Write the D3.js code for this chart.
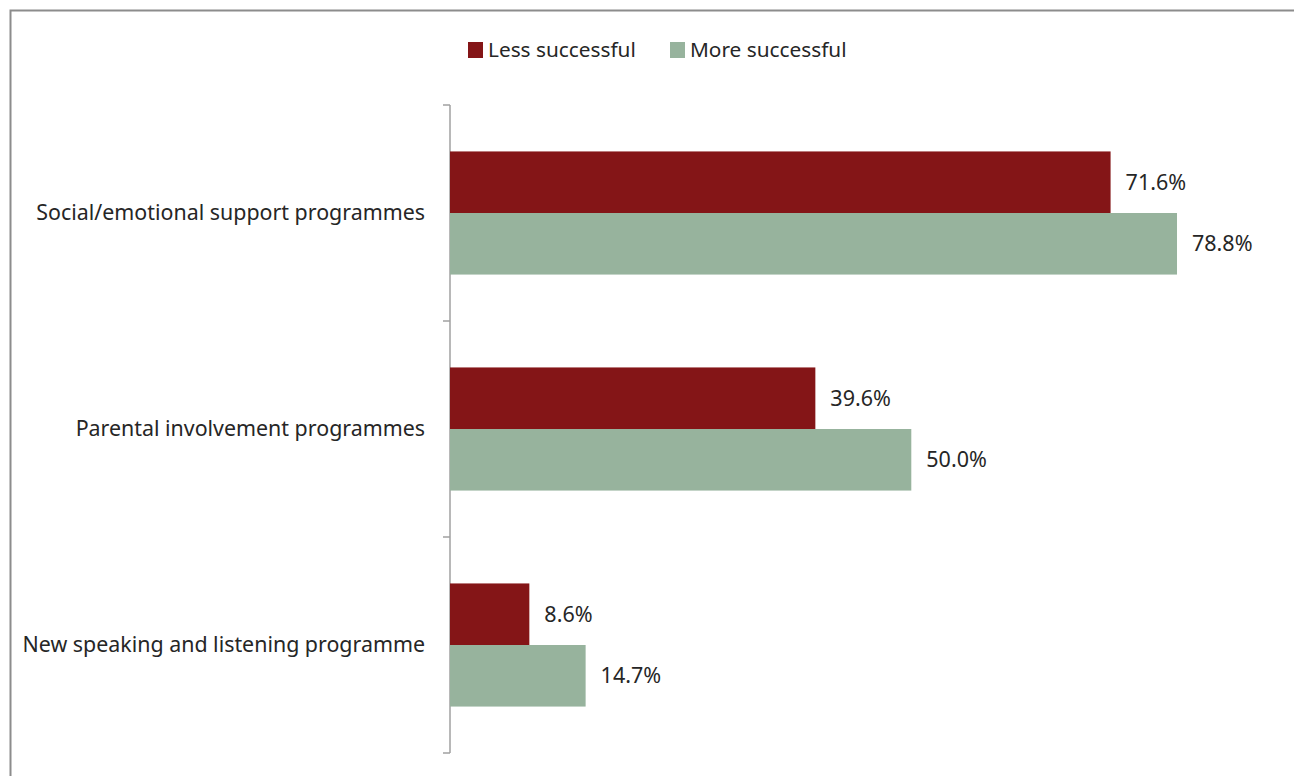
<!DOCTYPE html>
<html>
<head>
<meta charset="utf-8">
<script src="https://cdn.jsdelivr.net/npm/d3@7"></script>
<style>
  body { margin: 0; background: #fff; }
  text { font-family: "Noto Sans", sans-serif; fill: #262626; }
</style>
</head>
<body>
<div id="chart"></div>
<script>
// data
var categories = ["Social/emotional support programmes", "Parental involvement programmes", "New speaking and listening programme"];
var seriesNames = ["Less successful", "More successful"];
var lessSuccessful = [71.6, 39.6, 8.6];
var moreSuccessful = [78.8, 50.0, 14.7];
var colours = ["#841517", "#97b39d"];

var W = 1294, H = 776;
var margin = {top: 105, left: 450, bottom: 23};

var svg = d3.select("#chart").append("svg")
    .attr("width", W)
    .attr("height", H);

// outer frame
svg.append("rect")
    .attr("x", 10.5).attr("y", 10.5)
    .attr("width", W + 20).attr("height", H + 20)
    .attr("fill", "none")
    .attr("stroke", "#8c8c8c")
    .attr("stroke-width", 2);

var rows = categories.map(function(c, i) {
    return {cat: c, values: [lessSuccessful[i], moreSuccessful[i]]};
});

// scales
var x = d3.scaleLinear().domain([0, 100]).range([margin.left, margin.left + 922.6]);
var y = d3.scaleBand().domain(categories).range([margin.top, H - margin.bottom]).paddingInner(0.43).paddingOuter(0.215);
var ySub = d3.scaleBand().domain(seriesNames).range([0, y.bandwidth()]);

// axis with tick marks between categories
var yAxis = d3.scaleLinear().domain([0, categories.length]).range([margin.top, H - margin.bottom]);
var axisG = svg.append("g");
axisG.append("line")
    .attr("x1", margin.left).attr("x2", margin.left)
    .attr("y1", yAxis(0)).attr("y2", yAxis(categories.length))
    .attr("stroke", "#a0a0a0").attr("stroke-width", 1.5);
axisG.selectAll("line.tick")
    .data(d3.range(categories.length + 1))
    .enter().append("line")
    .attr("class", "tick")
    .attr("x1", margin.left - 7).attr("x2", margin.left)
    .attr("y1", function(d) { return yAxis(d); })
    .attr("y2", function(d) { return yAxis(d); })
    .attr("stroke", "#a0a0a0").attr("stroke-width", 1.5);

// category labels
svg.selectAll("text.cat")
    .data(categories)
    .enter().append("text")
    .attr("class", "cat")
    .attr("x", margin.left - 25)
    .attr("y", function(d) { return y(d) + y.bandwidth() / 2; })
    .attr("dy", "0.35em")
    .attr("text-anchor", "end")
    .style("font-size", "21.4px")
    .text(function(d) { return d; });

// bars
var groups = svg.selectAll("g.row")
    .data(rows)
    .enter().append("g")
    .attr("class", "row")
    .attr("transform", function(d) { return "translate(0," + y(d.cat) + ")"; });

groups.selectAll("rect")
    .data(function(d) { return d.values; })
    .enter().append("rect")
    .attr("x", x(0))
    .attr("y", function(d, i) { return ySub(seriesNames[i]); })
    .attr("width", function(d) { return x(d) - x(0); })
    .attr("height", ySub.bandwidth())
    .attr("fill", function(d, i) { return colours[i]; });

groups.selectAll("text.val")
    .data(function(d) { return d.values; })
    .enter().append("text")
    .attr("class", "val")
    .attr("x", function(d) { return x(d) + 15; })
    .attr("y", function(d, i) { return ySub(seriesNames[i]) + ySub.bandwidth() / 2; })
    .attr("dy", "0.35em")
    .style("font-size", "21.5px")
    .text(function(d) { return d.toFixed(1) + "%"; });

// legend
var legendX = [468, 670];
var legend = svg.selectAll("g.legend")
    .data(seriesNames)
    .enter().append("g")
    .attr("class", "legend")
    .attr("transform", function(d, i) { return "translate(" + legendX[i] + ",50)"; });
legend.append("rect")
    .attr("x", 0).attr("y", -8)
    .attr("width", 15).attr("height", 16)
    .attr("fill", function(d, i) { return colours[i]; });
legend.append("text")
    .attr("x", 20)
    .attr("dy", "0.35em")
    .style("font-size", "20.8px")
    .text(function(d) { return d; });
</script>
</body>
</html>
